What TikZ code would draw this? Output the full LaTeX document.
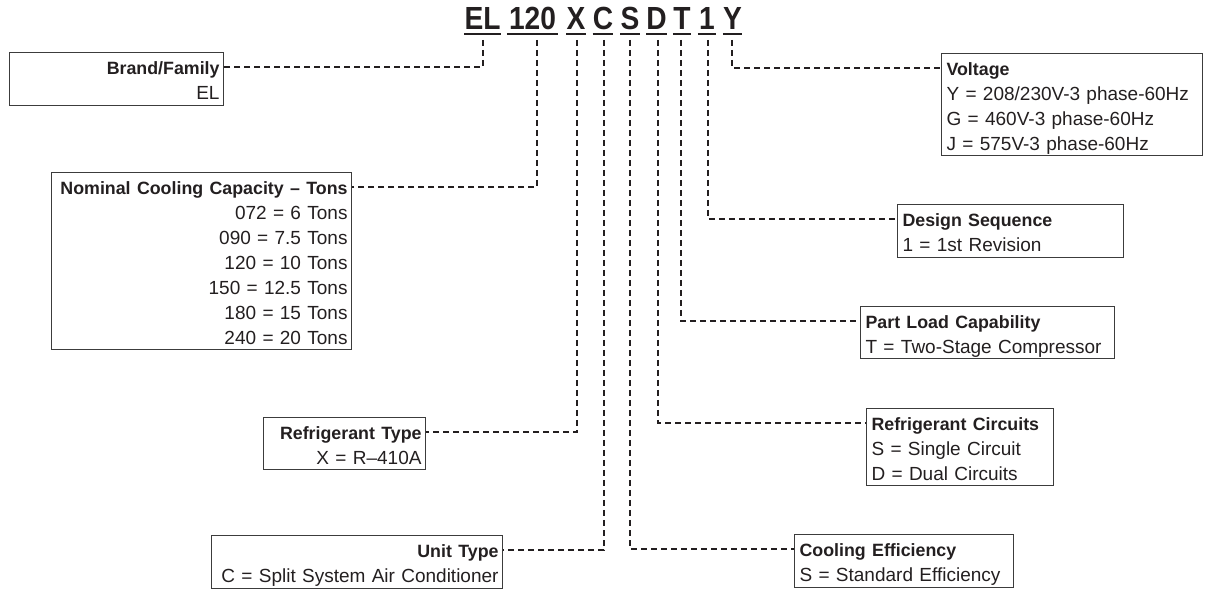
\documentclass[tikz,border=0pt]{standalone}
\usepackage{fontspec}
\setmainfont{Liberation Sans}
\newfontfamily\codefont[FakeStretch=0.88]{Liberation Sans}
\definecolor{ink}{HTML}{231F20}
\definecolor{frame}{HTML}{3C3C3C}
\newcommand\rowstrut{\vrule height 20.5pt depth 4.5pt width 0pt}
\newcommand\hd[1]{{\fontsize{17.8pt}{25pt}\selectfont\bfseries\rowstrut #1}}
\newcommand\tx[1]{{\fontsize{19pt}{25pt}\selectfont\rowstrut #1}}
\begin{document}
\begin{tikzpicture}[x=1pt,y=1pt,
  box/.style={draw=frame, line width=1.1pt, inner xsep=4pt, inner ysep=1pt, text=ink,
    anchor=north west, font=\fontsize{19pt}{25pt}\selectfont},
  code/.style={anchor=base, inner sep=0pt, text=ink,
    font={\codefont\fontsize{32pt}{36pt}\selectfont\bfseries}},
  uline/.style={draw=ink, line width=2.4pt},
  conn/.style={draw=ink, line width=1.8pt, dash pattern=on 6pt off 4pt}]
\useasboundingbox (0,0) rectangle (1208,-593);

% model code letters
\node[code, minimum width=33pt] (cEL) at (482.5,-30) {EL};
\node[code, minimum width=51pt] (c120) at (532.5,-30) {120};
\node[code, minimum width=18pt] (cX) at (576,-30) {X};
\node[code, minimum width=20pt] (cC) at (603,-30) {C};
\node[code, minimum width=18pt] (cS) at (630,-30) {S};
\node[code, minimum width=19pt] (cD) at (656.5,-30) {D};
\node[code, minimum width=18pt] (cT) at (682,-30) {T};
\node[code, minimum width=18pt] (c1) at (707,-30) {1};
\node[code, minimum width=19pt] (cY) at (732.5,-30) {Y};
\foreach \n in {cEL,c120,cX,cC,cS,cD,cT,c1,cY}
  \draw[uline] ([yshift=-4pt]\n.base west) -- ([yshift=-4pt]\n.base east);

% description boxes
\node[box, text width=206pt, align=right, minimum height=53pt] (brand) at (9,-52)
  {\hd{Brand/Family}\\\tx{EL}};
\node[box, text width=292pt, align=right, minimum height=177pt] (nominal) at (51,-172)
  {\hd{Nominal Cooling Capacity – Tons}\\\tx{072 = 6 Tons}\\\tx{090 = 7.5 Tons}\\\tx{120 = 10 Tons}\\\tx{150 = 12.5 Tons}\\\tx{180 = 15 Tons}\\\tx{240 = 20 Tons}};
\node[box, text width=154pt, align=right, minimum height=51pt] (reftype) at (263,-417)
  {\hd{Refrigerant Type}\\\tx{X = R–410A}};
\node[box, text width=283pt, align=right, minimum height=53pt] (unit) at (211,-535)
  {\hd{Unit Type}\\\tx{C = Split System Air Conditioner}};
\node[box, text width=209pt, align=left, minimum height=53pt, inner xsep=5pt] (cooling) at (794,-534)
  {\hd{Cooling Efficiency}\\\tx{S = Standard Efficiency}};
\node[box, text width=177pt, align=left, minimum height=77pt, inner xsep=5pt] (circuits) at (866,-408)
  {\hd{Refrigerant Circuits}\\\tx{S = Single Circuit}\\\tx{D = Dual Circuits}};
\node[box, text width=244pt, align=left, minimum height=52pt, inner xsep=5pt] (partload) at (860,-306)
  {\hd{Part Load Capability}\\\tx{T = Two-Stage Compressor}};
\node[box, text width=216pt, align=left, minimum height=53pt, inner xsep=5pt] (design) at (897,-204)
  {\hd{Design Sequence}\\\tx{1 = 1st Revision}};
\node[box, text width=251pt, align=left, minimum height=102pt, inner xsep=5pt] (voltage) at (941,-53)
  {\hd{Voltage}\\\tx{Y = 208/230V-3 phase-60Hz}\\\tx{G = 460V-3 phase-60Hz}\\\tx{J = 575V-3 phase-60Hz}};

% connectors
\draw[conn] ([xshift=0.5pt,yshift=-10pt]cEL.base) |- ([yshift=-15pt]brand.north east);
\draw[conn] ([xshift=4.5pt,yshift=-10pt]c120.base) |- ([yshift=-15pt]nominal.north east);
\draw[conn] ([xshift=1pt,yshift=-10pt]cX.base) |- ([yshift=-15pt]reftype.north east);
\draw[conn] ([xshift=1pt,yshift=-10pt]cC.base) |- ([yshift=-15pt]unit.north east);
\draw[conn] ([yshift=-10pt]cS.base) |- ([yshift=-15pt]cooling.north west);
\draw[conn] ([xshift=1.5pt,yshift=-10pt]cD.base) |- ([yshift=-15pt]circuits.north west);
\draw[conn] ([xshift=-1pt,yshift=-10pt]cT.base) |- ([yshift=-15pt]partload.north west);
\draw[conn] ([xshift=1pt,yshift=-10pt]c1.base) |- ([yshift=-15pt]design.north west);
\draw[conn] ([xshift=-0.5pt,yshift=-10pt]cY.base) |- ([yshift=-15pt]voltage.north west);
\end{tikzpicture}
\end{document}
